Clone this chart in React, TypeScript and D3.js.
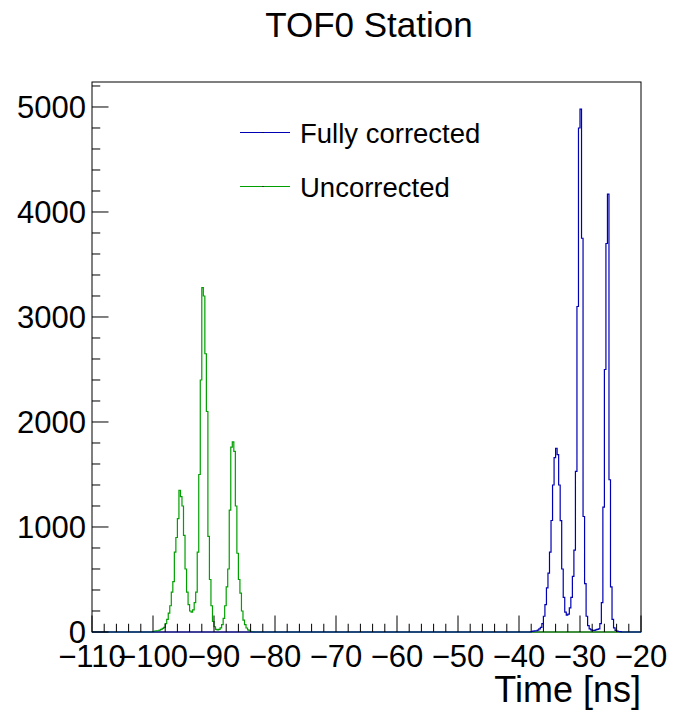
import React from "react";
import * as d3 from "d3";

// ---- data ----
const BIN_WIDTH = 0.25;
const X_DOMAIN = [-110, -20];
const Y_DOMAIN = [0, 5238];

const seriesNames = ["Fully corrected", "Uncorrected"];

// Fully corrected (blue), bins of 0.25 ns starting at -38.0 ns
const correctedStart = -38.0;
const correctedCounts = [
  5, 8, 10, 12, 18, 30, 45, 80, 150, 260, 420, 560, 760, 1062, 1400, 1660,
  1750, 1690, 1400, 1060, 600, 330, 190, 160, 170, 230, 330, 530, 780, 1530,
  3100, 4800, 4980, 3750, 1100, 460, 150, 60, 30, 20, 15, 15, 20, 25, 30, 80,
  280, 1190, 2500, 3700, 4170, 1450, 430, 120, 40, 15, 8, 5, 3,
];

// Uncorrected (green), bins of 0.25 ns starting at -100.0 ns
const uncorrectedStart = -100.0;
const uncorrectedCounts = [
  5, 8, 10, 12, 18, 25, 35, 45, 80, 120, 180, 250, 380, 480, 760, 900, 1080,
  1350, 1290, 1200, 920, 600, 380, 260, 200, 190, 210, 280, 380, 760, 1500,
  2400, 3280, 3200, 2650, 2100, 910, 500, 250, 100, 50, 25, 20, 25, 40, 70,
  130, 250, 430, 600, 1160, 1760, 1810, 1720, 1200, 750, 500, 370, 200, 114,
  70, 38, 20, 10, 5, 3,
];

const xTickValues = [-110, -100, -90, -80, -70, -60, -50, -40, -30, -20];
const yTickValues = [0, 1000, 2000, 3000, 4000, 5000];
const xMinorStep = 2;
const yMinorStep = 200;

const title = "TOF0 Station";
const xAxisTitle = "Time [ns]";

// ---- layout ----
const W = 674;
const H = 711;
const frame = { left: 92, right: 641, top: 82, bottom: 632 };
const BLUE = "#0000b4";
const GREEN = "#00a000";
const FONT = "'Liberation Sans', Arial, Helvetica, sans-serif";

function buildBins(start: number, counts: number[]) {
  const nBins = Math.round((X_DOMAIN[1] - X_DOMAIN[0]) / BIN_WIDTH);
  const vals = new Array(nBins).fill(0);
  const offset = Math.round((start - X_DOMAIN[0]) / BIN_WIDTH);
  counts.forEach((c, i) => {
    if (offset + i >= 0 && offset + i < nBins) vals[offset + i] = c;
  });
  const pts: [number, number][] = vals.map((v, i) => [X_DOMAIN[0] + i * BIN_WIDTH, v]);
  pts.push([X_DOMAIN[1], vals[nBins - 1]]);
  return pts;
}

export default function App() {
  const x = d3.scaleLinear().domain(X_DOMAIN).range([frame.left, frame.right]);
  const y = d3.scaleLinear().domain(Y_DOMAIN).range([frame.bottom, frame.top]);

  const line = d3
    .line<[number, number]>()
    .x((d) => x(d[0]))
    .y((d) => y(d[1]))
    .curve(d3.curveStepAfter);

  const bluePath = line(buildBins(correctedStart, correctedCounts)) || "";
  const greenPath = line(buildBins(uncorrectedStart, uncorrectedCounts)) || "";

  const xMinor = d3.range(X_DOMAIN[0], X_DOMAIN[1] + 0.001, xMinorStep);
  const yMinor = d3.range(Y_DOMAIN[0], Y_DOMAIN[1], yMinorStep);

  const majLen = 16.5;
  const minLen = 8.25;

  const legendItems = [
    { label: seriesNames[0], color: BLUE, y: 132.5 },
    { label: seriesNames[1], color: GREEN, y: 186.5 },
  ];

  return (
    <svg
      width={W}
      height={H}
      style={{ position: "absolute", left: 0, top: 0, background: "#fff" }}
      fontFamily={FONT}
    >
      <rect x={0} y={0} width={W} height={H} fill="#fff" />
      <text x={369} y={37} textAnchor="middle" fontSize={35} fill="#000">
        {title}
      </text>

      {/* frame */}
      <rect
        x={frame.left}
        y={frame.top}
        width={frame.right - frame.left}
        height={frame.bottom - frame.top}
        fill="none"
        stroke="#000"
        strokeWidth={1}
      />

      {/* histograms */}
      <path d={greenPath} fill="none" stroke={GREEN} strokeWidth={1.2} />
      <path d={bluePath} fill="none" stroke={BLUE} strokeWidth={1.2} />

      {/* x ticks */}
      {xMinor.map((v) => {
        const isMajor = Math.abs(v % 10) < 1e-6;
        const len = isMajor ? majLen : minLen;
        return (
          <line
            key={"xt" + v}
            x1={x(v)}
            x2={x(v)}
            y1={frame.bottom}
            y2={frame.bottom - len}
            stroke="#000"
            strokeWidth={1}
          />
        );
      })}
      {/* y ticks */}
      {yMinor.map((v) => {
        const isMajor = v % 1000 === 0;
        const len = isMajor ? majLen : minLen;
        return (
          <line
            key={"yt" + v}
            x1={frame.left}
            x2={frame.left + len}
            y1={y(v)}
            y2={y(v)}
            stroke="#000"
            strokeWidth={1}
          />
        );
      })}

      {/* x labels */}
      {xTickValues.map((v) => (
        <text
          key={"xl" + v}
          x={x(v)}
          y={667}
          textAnchor="middle"
          fontSize={31}
          fill="#000"
        >
          {v < 0 ? "\u2212" + Math.abs(v) : String(v)}
        </text>
      ))}
      {/* y labels */}
      {yTickValues.map((v) => (
        <text
          key={"yl" + v}
          x={86}
          y={y(v) + 11}
          textAnchor="end"
          fontSize={31}
          fill="#000"
        >
          {String(v)}
        </text>
      ))}

      <text x={641} y={702} textAnchor="end" fontSize={36} fill="#000">
        {xAxisTitle}
      </text>

      {/* legend */}
      {legendItems.map((it) => (
        <g key={it.label}>
          <line x1={240} x2={290} y1={it.y} y2={it.y} stroke={it.color} strokeWidth={1.2} />
          <rect x={262.5} y={it.y - 0.5} width={1} height={1} fill="#000" />
          <text x={300} y={it.y + 10} fontSize={27.5} fill="#000">
            {it.label}
          </text>
        </g>
      ))}
    </svg>
  );
}
